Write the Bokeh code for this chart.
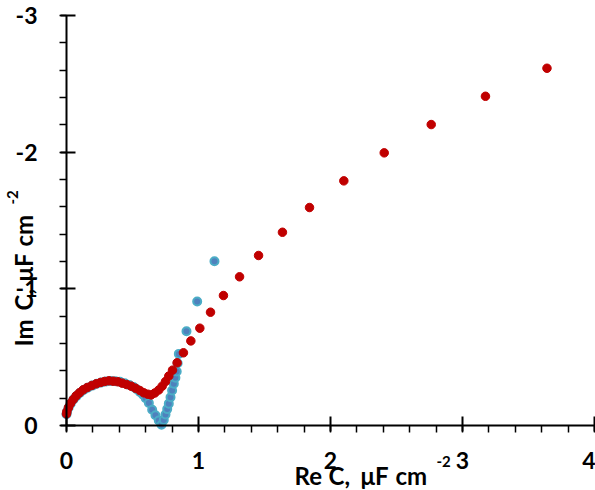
import math
from bokeh.plotting import figure
from bokeh.models import Range1d, FixedTicker, Label
from bokeh.embed import file_html
from bokeh.resources import INLINE

# ---- data (Re C, Im C in uF cm-2) ----
red_re = [0.000, 0.003, 0.015, 0.030, 0.051, 0.073, 0.098, 0.126, 0.157, 0.192,
          0.225, 0.258, 0.288, 0.321, 0.354, 0.389, 0.422, 0.455, 0.490, 0.523,
          0.556, 0.586, 0.616, 0.641, 0.669, 0.699, 0.725, 0.750, 0.775, 0.803,
          0.838, 0.886, 0.942, 1.010, 1.091, 1.189, 1.311, 1.455, 1.636, 1.841,
          2.101, 2.407, 2.763, 3.174, 3.640]
red_im = [-0.085, -0.102, -0.132, -0.161, -0.190, -0.217, -0.239, -0.261, -0.278, -0.293,
          -0.305, -0.315, -0.322, -0.327, -0.324, -0.320, -0.310, -0.300, -0.288, -0.273,
          -0.256, -0.239, -0.229, -0.224, -0.238, -0.260, -0.288, -0.322, -0.362, -0.405,
          -0.459, -0.532, -0.619, -0.712, -0.829, -0.951, -1.088, -1.244, -1.414, -1.595,
          -1.790, -1.995, -2.202, -2.409, -2.614]

blue_re = [0.000, 0.004, 0.016, 0.032, 0.053, 0.076, 0.101, 0.130, 0.161, 0.196,
           0.230, 0.265, 0.300, 0.335, 0.370, 0.405, 0.440, 0.475, 0.508, 0.532,
           0.556, 0.580, 0.600, 0.624, 0.649, 0.674, 0.699, 0.720, 0.737, 0.750,
           0.763, 0.775, 0.788, 0.800, 0.813, 0.825, 0.835, 0.842, 0.851, 0.909,
           0.990, 1.121]
blue_im = [-0.082, -0.100, -0.130, -0.160, -0.190, -0.215, -0.238, -0.260, -0.277, -0.292,
           -0.305, -0.315, -0.322, -0.326, -0.324, -0.320, -0.310, -0.297, -0.282, -0.265,
           -0.245, -0.225, -0.200, -0.165, -0.115, -0.075, -0.037, -0.005, -0.040, -0.080,
           -0.120, -0.160, -0.207, -0.256, -0.305, -0.350, -0.395, -0.455, -0.524, -0.690,
           -0.907, -1.202]

x_ticks = [0, 1, 2, 3, 4]
y_ticks = [0, -1, -2, -3]
y_tick_labels = ["0", "-1", "-2", "-3"]

FONT = "Lato"

# ---- layout: the frame covers the whole canvas, axes are pinned at 0 ----
W, H = 595, 490
X0_PX, PX_PER_X = 66, 132.0          # page x of Re=0, pixels per unit
Y0_PX, PX_PER_Y = 425, 410.0 / 3.0   # page y of Im=0, pixels per unit

def dx(px):
    return (px - X0_PX) / PX_PER_X

def dy(py):
    return (py - Y0_PX) / PX_PER_Y

p = figure(width=W, height=H, output_backend="svg", toolbar_location=None,
           x_range=Range1d(dx(0), dx(W)), y_range=Range1d(dy(H), dy(0)),
           min_border_left=0, min_border_right=0, min_border_top=0, min_border_bottom=0)
p.outline_line_color = None
p.xgrid.visible = False
p.ygrid.visible = False
p.background_fill_color = "white"
p.border_fill_color = "white"

xa = p.xaxis[0]
ya = p.yaxis[0]
xa.fixed_location = 0
ya.fixed_location = 0
xa.bounds = (0, 4)
ya.bounds = (-3, 0)

for ax in (xa, ya):
    ax.axis_line_color = "black"
    ax.axis_line_width = 2
    ax.major_tick_line_color = "black"
    ax.major_tick_line_width = 2
    ax.major_tick_in = 9
    ax.major_tick_out = 6
    ax.minor_tick_line_color = "black"
    ax.minor_tick_line_width = 1.5
    ax.minor_tick_in = 0
    ax.minor_tick_out = 7
    ax.major_label_text_font = FONT
    ax.major_label_text_font_style = "bold"
    ax.major_label_text_font_size = "23px"
    ax.major_label_text_color = "black"
    ax.major_label_standoff = 19
ya.major_label_standoff = 22

xa.ticker = FixedTicker(ticks=x_ticks, minor_ticks=[i / 5 for i in range(0, 21)])
ya.ticker = FixedTicker(ticks=y_ticks, minor_ticks=[-i / 5 for i in range(0, 16)])
ya.major_label_overrides = {t: s for t, s in zip(y_ticks, y_tick_labels)}

p.scatter(blue_re, blue_im, size=8, fill_color="#4F81BD", line_color="#4BACC6",
          line_width=2)
p.scatter(red_re, red_im, size=8.5, fill_color="#C00000", line_color="#C00000",
          line_width=1)

# ---- axis titles (placed word by word) ----
def word(text, px, py, angle=0.0, size="24px"):
    p.add_layout(Label(x=dx(px), y=dy(py), text=text,
                       angle=angle, text_font=FONT, text_font_style="bold",
                       text_font_size=size, text_color="black",
                       text_align="left", text_baseline="alphabetic"))

# x title: "Re C, μF cm-2"
word("Re", 294, 475)
word("C,", 328, 475)
word("μF", 360, 475)
word("cm", 395, 475)
word("-2", 436, 461, size="15px")

# y title: "Im C, μF cm-2" (rotated)
a = math.pi / 2
word("Im", 23, 346, a)
word("C,", 23, 310, a)
word("μF", 23, 281, a)
word("cm", 23, 246, a)
word("-2", 12, 204, a, size="15px")

open("out.html", "w").write(file_html(p, INLINE))
